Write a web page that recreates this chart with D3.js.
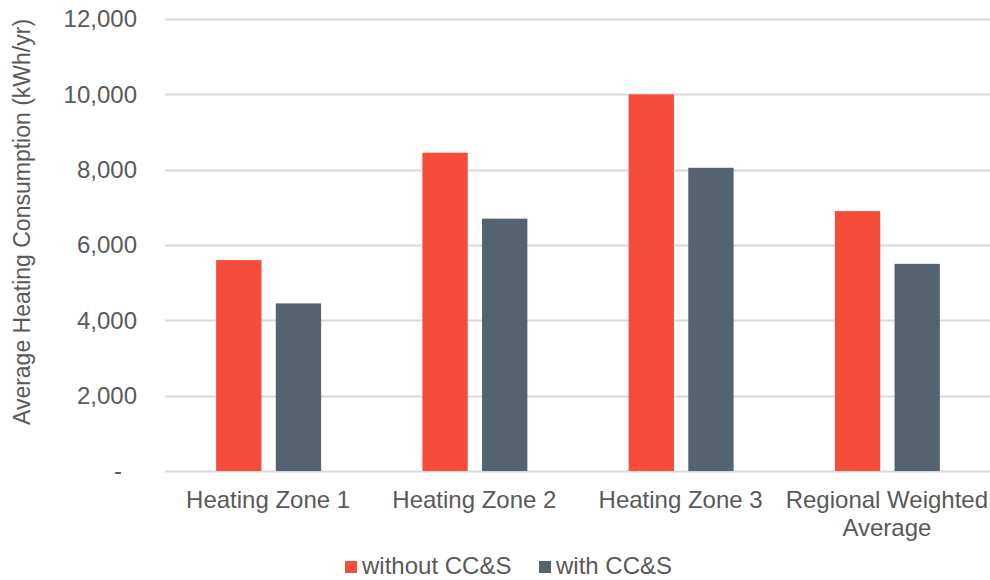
<!DOCTYPE html>
<html>
<head>
<meta charset="utf-8">
<script src="https://cdn.jsdelivr.net/npm/d3@7"></script>
<style>
  body { margin: 0; background: #fff; }
  text { font-family: "Liberation Sans", Arial, sans-serif; fill: #595959; }
</style>
</head>
<body>
<script>
// chart data
var categories = ["Heating Zone 1", "Heating Zone 2", "Heating Zone 3", "Regional Weighted Average"];
var seriesNames = ["without CC&S", "with CC&S"];
var withoutCCS = [5600, 8450, 10000, 6900];
var withCCS = [4450, 6700, 8050, 5500];
var yTicks = [0, 2000, 4000, 6000, 8000, 10000, 12000];
var colors = ["#F54D3A", "#55626F"];

var width = 990, height = 580;
var margin = {top: 19, right: 0, bottom: 109, left: 165};
var innerW = width - margin.left - margin.right,
    innerH = height - margin.top - margin.bottom;
var fs = 24;

var svg = d3.select("body").append("svg")
  .attr("width", width)
  .attr("height", height);

var g = svg.append("g")
  .attr("transform", "translate(" + margin.left + "," + margin.top + ")");

var x = d3.scaleBand()
  .domain(categories)
  .range([0, innerW]);

var x1 = d3.scaleBand()
  .domain(seriesNames)
  .range([0, 105])
  .paddingInner(0.24);

var y = d3.scaleLinear()
  .domain([0, 12000])
  .range([innerH, 0]);

// gridlines
g.append("g")
  .selectAll("line")
  .data(yTicks)
  .join("line")
    .attr("x1", 0)
    .attr("x2", innerW)
    .attr("y1", function(d) { return Math.round(y(d)) + 0.5; })
    .attr("y2", function(d) { return Math.round(y(d)) + 0.5; })
    .attr("stroke", "#d9d9d9")
    .attr("stroke-width", 2);

// y axis labels
var yAxis = g.append("g")
  .call(d3.axisLeft(y).tickValues(yTicks)
    .tickSize(0).tickPadding(28)
    .tickFormat(function(d) { return d === 0 ? "-" : d3.format(",")(d); }));
yAxis.select(".domain").remove();
yAxis.selectAll("text")
  .attr("font-size", fs)
  .attr("fill", "#595959")
  .style("font-family", "Liberation Sans, Arial, sans-serif");
yAxis.selectAll(".tick text")
  .filter(function(d) { return d === 0; })
  .attr("dx", -15);

// bars
var data = categories.map(function(c, i) {
  return {cat: c, vals: [
    {name: seriesNames[0], v: withoutCCS[i]},
    {name: seriesNames[1], v: withCCS[i]}
  ]};
});

var groups = g.selectAll(".cat")
  .data(data)
  .join("g")
    .attr("class", "cat")
    .attr("transform", function(d) {
      return "translate(" + (x(d.cat) + x.bandwidth() / 2 - 52) + ",0)";
    });

groups.selectAll("rect")
  .data(function(d) { return d.vals; })
  .join("rect")
    .attr("x", function(d) { return x1(d.name); })
    .attr("width", x1.bandwidth())
    .attr("y", function(d) { return y(d.v); })
    .attr("height", function(d) { return innerH - y(d.v); })
    .attr("fill", function(d, i) { return colors[i]; });

// x labels
var xl = g.append("g").attr("transform", "translate(0," + innerH + ")");
categories.forEach(function(c) {
  var lines = c === "Regional Weighted Average" ? ["Regional Weighted", "Average"] : [c];
  var t = xl.append("text")
    .attr("text-anchor", "middle")
    .attr("font-size", fs)
    .attr("x", x(c) + x.bandwidth() / 2)
    .attr("y", 37);
  lines.forEach(function(l, i) {
    t.append("tspan")
      .attr("x", x(c) + x.bandwidth() / 2)
      .attr("dy", i === 0 ? 0 : 28)
      .text(l);
  });
});

// y axis title
svg.append("text")
  .attr("transform", "translate(30,222) rotate(-90)")
  .attr("text-anchor", "middle")
  .attr("font-size", 23)
  .text("Average Heating Consumption (kWh/yr)");

// legend
var legend = svg.append("g").attr("transform", "translate(345,561)");
var legX = [0, 194];
seriesNames.forEach(function(s, i) {
  legend.append("rect")
    .attr("x", legX[i])
    .attr("y", 0)
    .attr("width", 12)
    .attr("height", 12)
    .attr("fill", colors[i]);
  legend.append("text")
    .attr("x", legX[i] + 17)
    .attr("y", 13)
    .attr("font-size", fs)
    .text(s);
});
</script>
</body>
</html>
